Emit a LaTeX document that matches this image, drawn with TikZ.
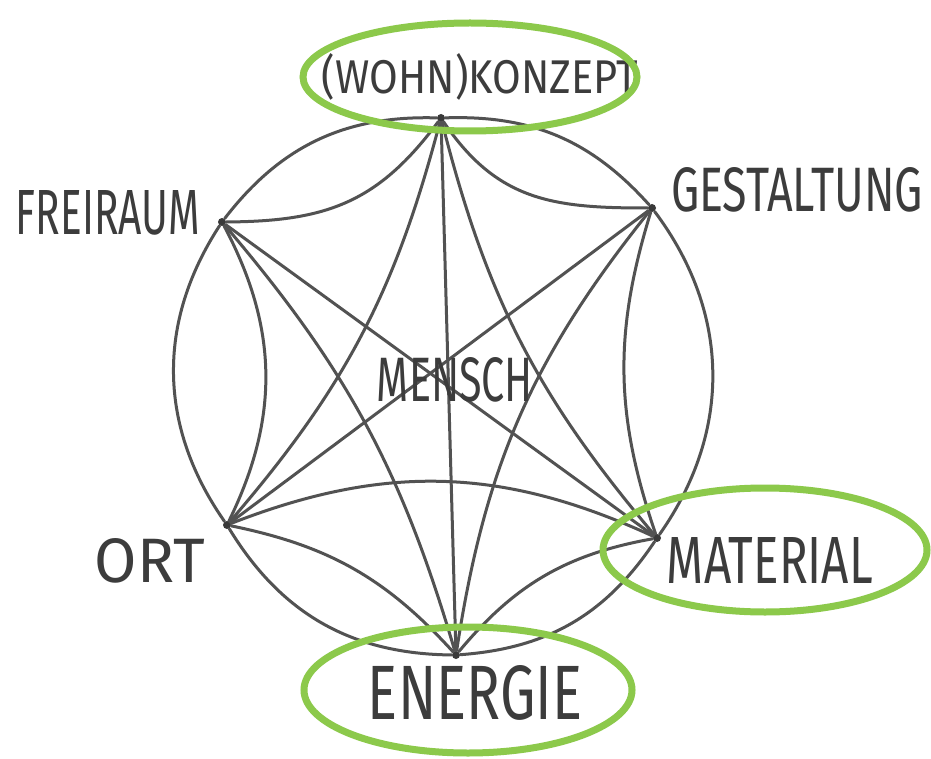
\documentclass[tikz,border=0pt]{standalone}
\usepackage{fontspec}
\setsansfont{Fira Sans}
\usepackage{graphicx}
\definecolor{ink}{HTML}{525252}
\definecolor{textink}{HTML}{3c3c3c}
\definecolor{leaf}{RGB}{140,201,75}
\begin{document}
\begin{tikzpicture}[x=0.5pt,y=-0.5pt,
  ink/.style={draw=ink,line width=1.5pt,line cap=round},
  vtx/.style={circle,fill=ink!70!black,inner sep=0pt,minimum size=4pt},
  ring/.style={draw=leaf,line width=3.5pt},
  lbl/.style={text=textink,inner sep=0pt,font=\sffamily}]
\useasboundingbox (0,0) rectangle (931,759);
\fill[white] (0,0) rectangle (931,759);
% vertices
\node[vtx] (K) at (441,118) {};
\node[vtx] (G) at (652,208) {};
\node[vtx] (M) at (657,538) {};
\node[vtx] (E) at (456,655) {};
\node[vtx] (O) at (227,525) {};
\node[vtx] (F) at (222,222) {};
% outer arcs
\draw[ink] (K) to[bend left=25] (G);
\draw[ink] (G) to[bend left=36] (M);
\draw[ink] (M) to[bend left=26] (E);
\draw[ink] (E) to[bend left=29] (O);
\draw[ink] (O) to[bend left=34] (F);
\draw[ink] (F) to[bend left=27] (K);
% inner curves
\draw[ink] (K) to[out=-33,in=203,relative,looseness=1.1] (G);
\draw[ink] (G) to[bend right=18] (M);
\draw[ink] (M) to[bend right=20] (E);
\draw[ink] (E) to[bend right=18] (O);
\draw[ink] (O) to[bend right=27] (F);
\draw[ink] (K) to[out=28,in=155,relative,looseness=1.1] (F);
% skip-one curves
\draw[ink] (K) to[bend right=13] (M);
\draw[ink] (G) to[bend right=15] (E);
\draw[ink] (M) to[bend right=23] (O);
\draw[ink] (E) to[bend right=12] (F);
\draw[ink] (O) to[bend right=13] (K);
% long diagonals
\draw[ink] (K) -- (E);
\draw[ink] (F) -- (M);
\draw[ink] (G) -- (O);
% labels
\node[lbl] (tK) at (480,77) {\resizebox{158pt}{20pt}{(WOHN)KONZEPT}};
\node[lbl] (tG) at (797,190) {\resizebox{126pt}{22pt}{GESTALTUNG}};
\node[lbl] (tF) at (108,213) {\resizebox{92pt}{22pt}{FREIRAUM}};
\node[lbl] (tS) at (455,380) {\resizebox{78pt}{22pt}{MENSCH}};
\node[lbl] (tO) at (150,561) {\resizebox{55pt}{22pt}{ORT}};
\node[lbl] (tM) at (770,560) {\resizebox{103pt}{23pt}{MATERIAL}};
\node[lbl] (tE) at (475,693) {\resizebox{107pt}{27pt}{ENERGIE}};
% green rings
\draw[ring] (470,77) ellipse [x radius=167, y radius=54];
\draw[ring] (765,550) ellipse [x radius=162, y radius=62];
\draw[ring] (468,690) ellipse [x radius=164, y radius=63];
\end{tikzpicture}
\end{document}
